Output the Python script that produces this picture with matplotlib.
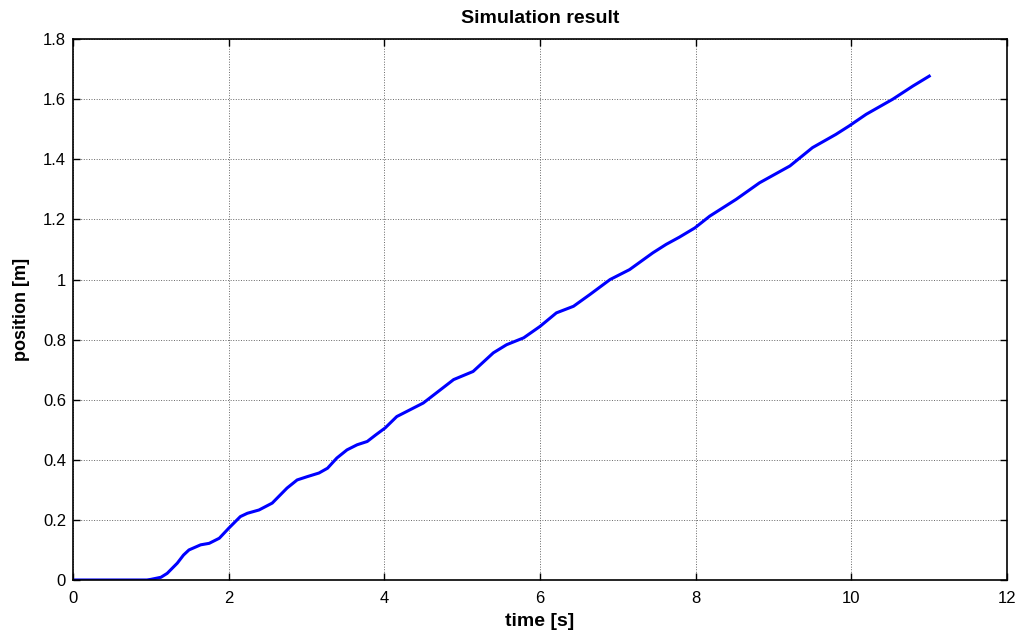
import matplotlib.pyplot as plt

plt.rcParams['font.family'] = ['Liberation Sans', 'DejaVu Sans']

# values
time_s = [0.0, 0.5, 0.95, 1.0, 1.13, 1.21, 1.34, 1.42, 1.49, 1.64, 1.75, 1.88, 2.0, 2.15, 2.24,
          2.39, 2.56, 2.75, 2.88, 3.01, 3.16, 3.27, 3.39, 3.52, 3.65, 3.78, 3.89, 4.01,
          4.16, 4.50, 4.72, 4.89, 5.14, 5.40, 5.57, 5.79, 6.0, 6.21, 6.43, 6.64, 6.90,
          7.15, 7.45, 7.62, 7.79, 7.99, 8.18, 8.52, 8.82, 9.21, 9.50, 9.80, 9.97, 10.19,
          10.53, 10.79, 11.0]
position_m = [0.0, 0.0, 0.0, 0.002, 0.009, 0.022, 0.056, 0.083, 0.10, 0.117, 0.122, 0.139, 0.172,
              0.211, 0.222, 0.233, 0.256, 0.306, 0.333, 0.344, 0.356, 0.372, 0.406, 0.433,
              0.45, 0.461, 0.483, 0.506, 0.544, 0.589, 0.633, 0.667, 0.694, 0.756, 0.783,
              0.806, 0.844, 0.889, 0.911, 0.95, 1.0, 1.033, 1.089, 1.117, 1.141, 1.172,
              1.211, 1.267, 1.322, 1.378, 1.439, 1.483, 1.511, 1.55, 1.60, 1.644, 1.677]

fig = plt.figure(figsize=(10.22, 6.37), dpi=100)
ax = fig.add_axes([0.0714, 0.0895, 0.914, 0.849])

ax.plot(time_s, position_m, color='#0000ff', linewidth=2.2)

ax.set_xlim(0, 12)
ax.set_ylim(0, 1.8)
ax.set_xticks([0, 2, 4, 6, 8, 10, 12])
ax.set_xticklabels(['0', '2', '4', '6', '8', '10', '12'])
ax.set_yticks([0, 0.2, 0.4, 0.6, 0.8, 1.0, 1.2, 1.4, 1.6, 1.8])
ax.set_yticklabels(['0', '0.2', '0.4', '0.6', '0.8', '1', '1.2', '1.4', '1.6', '1.8'])
ax.tick_params(direction='in', length=5, width=1, top=True, right=True, labelsize=12,
               colors='black')
ax.tick_params(axis='x', pad=8)
ax.tick_params(axis='y', pad=5)
ax.grid(True, linestyle=':', color='#666666', linewidth=0.7)
for s in ax.spines.values():
    s.set_linewidth(1.2)

ax.set_title("Simulation result", fontsize=14, fontweight='bold', pad=12)
ax.set_xlabel("time [s]", fontsize=14, fontweight='bold', labelpad=5)
ax.set_ylabel("position [m]", fontsize=13, fontweight='bold', labelpad=9)

fig.savefig("out.png", dpi=100)
